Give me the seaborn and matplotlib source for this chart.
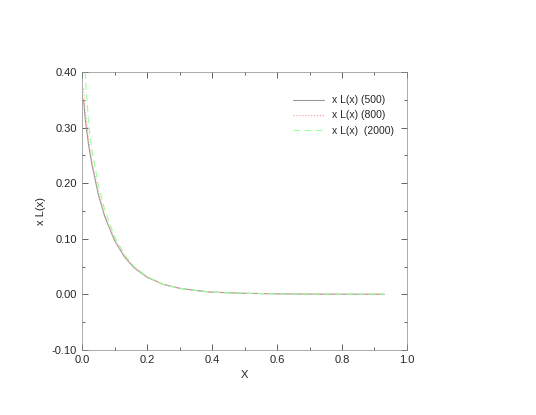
import numpy as np
import matplotlib
matplotlib.use("Agg")
import matplotlib.pyplot as plt
import seaborn as sns
from matplotlib.ticker import MultipleLocator

# values
x = [0.005, 0.01, 0.02, 0.03, 0.05, 0.07, 0.1, 0.13, 0.16, 0.2, 0.25, 0.3, 0.35, 0.4, 0.5, 0.6, 0.7, 0.8, 0.93]
y_500 = [0.350, 0.315, 0.270, 0.235, 0.180, 0.140, 0.097, 0.068, 0.048, 0.031, 0.018, 0.011, 0.007, 0.004, 0.002, 0.001, 0.0005, 0.0003, 0.0002]
y_800 = [0.370, 0.330, 0.280, 0.242, 0.185, 0.143, 0.099, 0.069, 0.049, 0.031, 0.018, 0.011, 0.007, 0.004, 0.002, 0.001, 0.0005, 0.0003, 0.0002]
y_2000 = [0.440, 0.395, 0.310, 0.262, 0.198, 0.152, 0.104, 0.072, 0.050, 0.032, 0.018, 0.011, 0.007, 0.004, 0.002, 0.001, 0.0005, 0.0003, 0.0002]

sns.set_style("ticks")
plt.rcParams['font.family'] = ['Liberation Sans', 'DejaVu Sans']

fig = plt.figure(figsize=(5.36, 4.15), dpi=100)
ax = fig.add_axes([82/536, 1 - 350/415, (407-82)/536, (350-72)/415])

sns.lineplot(x=x, y=y_500, ax=ax, color="#999999", lw=0.8, label="x L(x) (500)")
sns.lineplot(x=x, y=y_800, ax=ax, color="#ff9999", lw=0.8, linestyle=":", label="x L(x) (800)")
sns.lineplot(x=x, y=y_2000, ax=ax, color="#99ff99", lw=0.8, linestyle=(0, (6, 4)), label="x L(x)  (2000)")

ax.set_xlim(0, 1)
ax.set_ylim(-0.1, 0.4)
ax.xaxis.set_major_locator(MultipleLocator(0.2))
ax.xaxis.set_minor_locator(MultipleLocator(0.1))
ax.yaxis.set_major_locator(MultipleLocator(0.1))
ax.yaxis.set_minor_locator(MultipleLocator(0.05))
ax.set_xticklabels([f"{v:.1f}" for v in ax.get_xticks()])
ax.set_yticklabels([f"{v:.2f}" for v in ax.get_yticks()])
ax.tick_params(which="both", direction="in", top=True, right=True, labelsize=8, width=0.5)
ax.tick_params(which="major", length=4)
ax.tick_params(which="minor", length=2)
for s in ax.spines.values():
    s.set_linewidth(0.5)
    s.set_color("#888888")
ax.set_xlabel("X", fontsize=8)
ax.set_ylabel("x L(x)", fontsize=8)
ax.legend(loc="upper right", bbox_to_anchor=(0.99, 0.95), frameon=False, fontsize=7.5, handlelength=3)

fig.savefig("out.png", dpi=100)
